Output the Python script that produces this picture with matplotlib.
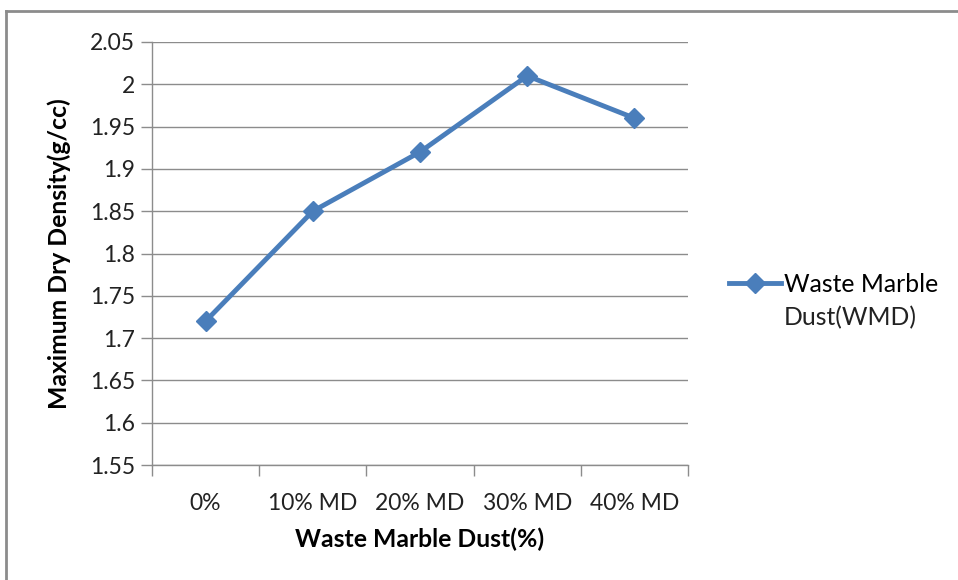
import matplotlib
matplotlib.use("Agg")
import matplotlib.pyplot as plt
from matplotlib.lines import Line2D

categories = ["0%", "10% MD", "20% MD", "30% MD", "40% MD"]
mdd = [1.72, 1.85, 1.92, 2.01, 1.96]
yticks = [1.55, 1.6, 1.65, 1.7, 1.75, 1.8, 1.85, 1.9, 1.95, 2.0, 2.05]
ytick_labels = ["1.55", "1.6", "1.65", "1.7", "1.75", "1.8", "1.85", "1.9", "1.95", "2", "2.05"]
series_name = "Waste Marble\nDust(WMD)"

plt.rcParams['font.family'] = ['Lato', 'DejaVu Sans']
W, H = 958, 580
fig = plt.figure(figsize=(W/100, H/100), dpi=100)

# outer border (top and left visible)
fig.add_artist(Line2D([6/W, 6/W], [0, 1 - 11/H], transform=fig.transFigure, color='#8c8c8c', lw=2))
fig.add_artist(Line2D([6/W, 1], [1 - 11/H, 1 - 11/H], transform=fig.transFigure, color='#8c8c8c', lw=2))

left, right, top, bottom = 152, 688, 42, 465
ax = fig.add_axes([left/W, 1 - bottom/H, (right-left)/W, (bottom-top)/H])
x = list(range(len(categories)))
color = '#4a7ebb'
name_lines = series_name.split("\n")
ax.plot(x, mdd, color=color, lw=3.5, marker='D', markersize=10, label=name_lines[0], zorder=3)
ax.set_xlim(-0.5, len(categories) - 0.5)
ax.set_ylim(1.55, 2.05)
ax.set_yticks(yticks)
ax.set_yticklabels(ytick_labels)
ax.yaxis.grid(True, color='#8c8c8c', lw=1)
ax.set_axisbelow(True)
for s in ['top', 'right']:
    ax.spines[s].set_visible(False)
for s in ['left', 'bottom']:
    ax.spines[s].set_color('#8c8c8c')
    ax.spines[s].set_linewidth(1)
ax.set_xticks(x)
ax.set_xticklabels(categories)
fs = 16.5
lfs = 17.8
ax.tick_params(axis='x', length=0, pad=20, labelsize=fs, labelcolor='#222222')
ax.set_xticks([i - 0.5 for i in range(len(categories) + 1)], minor=True)
ax.tick_params(axis='x', which='minor', length=8, color='#8c8c8c', width=1)
ax.tick_params(axis='y', length=8, color='#8c8c8c', width=1, labelsize=fs, labelcolor='#222222', pad=4)
ax.set_xlabel("Waste Marble Dust(%)", fontsize=lfs, fontweight='bold', labelpad=10)
ax.set_ylabel("Maximum Dry Density(g/cc)", fontsize=lfs, fontweight='bold', labelpad=14)

leg = fig.legend(loc='center left', bbox_to_anchor=(729/W, 1 - 284/H), frameon=False,
                 fontsize=lfs, handlelength=2.1, handletextpad=0.12, borderaxespad=0,
                 borderpad=0)
fig.canvas.draw()
bb = leg.get_texts()[0].get_window_extent()
x0 = bb.x0 / W
fig.text(x0, 1 - 318/H, name_lines[1], fontsize=lfs, ha='left', va='center', color='#222222')
plt.savefig("out.png", dpi=100)
